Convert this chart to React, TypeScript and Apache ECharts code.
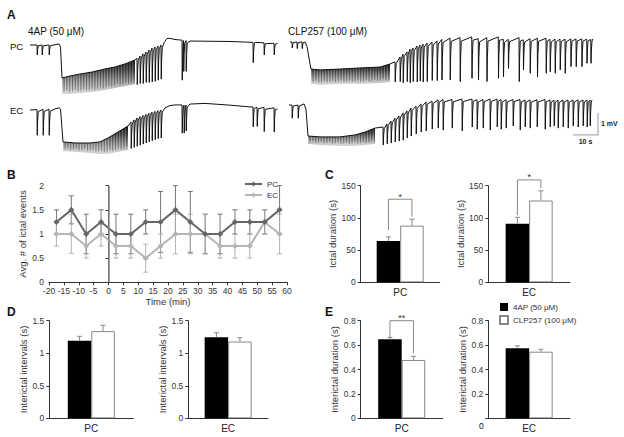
import React, { useEffect, useRef } from 'react';
import * as echarts from 'echarts';

const FONT = '"Liberation Sans", Arial, Helvetica, sans-serif';

// ---------- Panel A: traces (time in s, potential in mV relative to start) ----------
// baseline / envelope points [t, mV]
const pcLeftBase = [[0, 0], [11.6, 0.05], [12.2, -0.1], [12.8, -1.5], [16, -1.41], [20, -1.32], [24.8, -1.23], [30, -1.09], [34, -1.0], [38, -0.86], [42, -0.68], [53.6, 0.1], [54.8, 0.3], [56, 0.3], [58, 0.25], [64, 0.18], [80, 0.16], [90, 0.12], [99, 0.07]];
// spikes [t, onset mV, trough mV]
const pcLeftSpikes = [[2.8, 0, -0.45], [4.8, 0, -0.45], [7.6, 0, -0.45], [42.8, -0.6, -1.8], [44, -0.5, -1.75], [45.2, -0.4, -1.75], [46.4, -0.32, -1.7], [47.6, -0.23, -1.7], [48.8, -0.14, -1.68], [50, -0.09, -1.65], [51.2, -0.05, -1.6], [52.4, 0, -1.55], [60.8, 0.22, -1.6], [61.4, 0.2, -1.2], [62.4, 0.2, -1.2], [89.2, 0.12, -0.8], [93.6, 0.1, -0.45], [97.6, 0.08, -0.45]];
// dense burst band [t, upper mV, lower mV]
const pcLeftBand = [[12.8, -1.5, -2.23], [16, -1.41, -2.23], [20, -1.32, -2.18], [24.8, -1.23, -2.14], [30, -1.09, -2.05], [34, -1.0, -1.95], [38, -0.86, -1.86], [42, -0.68, -1.77]];

const ecLeftBase = [[0, 0], [10, 0.05], [11.6, 0.1], [12.2, 0.05], [13.2, -1.45], [18, -1.5], [24, -1.5], [28, -1.45], [31.2, -1.27], [35.2, -1.0], [39.2, -0.73], [54, 0.1], [56, 0.2], [58, 0.23], [64, 0.27], [70, 0.3], [80, 0.22], [88, 0.14], [99, 0.05]];
const ecLeftSpikes = [[2.8, 0.02, -1.15], [5.2, 0.03, -1.15], [7.6, 0.04, -1.15], [40.4, -0.55, -1.75], [41.6, -0.45, -1.7], [42.8, -0.36, -1.65], [44, -0.3, -1.6], [45.2, -0.25, -1.55], [46.4, -0.2, -1.5], [47.6, -0.15, -1.45], [48.8, -0.1, -1.4], [50, -0.06, -1.35], [51.2, -0.03, -1.3], [52.4, 0, -1.27], [60.8, 0.23, -1.05], [61.6, 0.22, -1.05], [62.4, 0.22, -0.95], [89.2, 0.14, -0.77], [90.8, 0.13, -0.75], [93.6, 0.12, -0.98], [97.6, 0.1, -1.0]];
const ecLeftBand = [[13.2, -1.45, -1.86], [18, -1.5, -1.9], [24, -1.5, -1.95], [28, -1.45, -2.0], [31.2, -1.27, -2.0], [35.2, -1.0, -1.9], [39.2, -0.73, -1.82]];

const pcRightBase = [[0.4, 0], [6.4, 0], [7.2, -0.2], [8.4, -1.0], [8.8, -1.23], [12.4, -1.27], [20.4, -1.23], [28.4, -1.18], [36.4, -1.14], [40.4, -1.0], [121.5, 0.14]];
const pcRightSpikes = [[1.2, 0, -0.27], [3.2, 0, -0.3], [5.2, 0, -0.3],
  [42.4, -0.9, -1.82], [44.4, -0.68, -1.8], [45.6, -0.55, -1.85], [47.2, -0.45, -1.8], [48.4, -0.32, -1.85], [49.6, -0.27, -1.8], [51.2, -0.18, -1.82], [52.4, -0.14, -1.78], [53.6, -0.09, -1.82], [55.2, -0.05, -1.8], [57.2, 0, -1.75], [59.2, 0.05, -1.75],
  [61.1, 0.12, -1.73], [64.4, 0.18, -1.73], [68.4, 0.2, -1.8], [73.1, 0.23, -1.65], [75.7, 0.15, -1.73], [79.1, 0.2, -1.8], [83.7, 0.23, -1.65], [85.7, 0.12, -1.58], [87.7, 0.12, -1.2], [92, 0.2, -1.8], [93.7, 0.1, -1.27], [96.4, 0.15, -1.42], [99.3, 0.17, -1.58], [102.8, 0.17, -1.42], [104.4, 0.12, -1.35], [106.4, 0.13, -1.42], [108.4, 0.13, -1.27], [110.4, 0.13, -1.42], [112.7, 0.14, -1.12], [114.8, 0.14, -1.12], [117.1, 0.14, -1.12], [119.1, 0.13, -0.97], [120.7, 0.12, -0.97]];
const pcRightBand = [[8.8, -1.23, -1.9], [12.4, -1.27, -1.95], [20.4, -1.23, -1.9], [28.4, -1.18, -1.9], [36.4, -1.14, -1.86], [40.4, -1.0, -1.82]];

const ecRightBase = [[0, 0], [6, 0.05], [6.8, -0.2], [7.6, -1.41], [12.4, -1.45], [20.4, -1.45], [26.4, -1.36], [30.4, -1.23], [34.4, -1.05], [121.2, 0.22]];
const ecRightSpikes = [[1.2, 0, -0.6], [3.6, 0, -0.6],
  [37.6, -1.0, -1.82], [39.2, -0.86, -1.77], [40.8, -0.73, -1.73], [42.4, -0.6, -1.68], [44, -0.5, -1.64], [45.6, -0.36, -1.6], [47.2, -0.27, -1.5], [48.8, -0.14, -1.41], [50.8, -0.05, -1.32], [52.8, 0.05, -1.23], [54.8, 0.14, -1.18], [57.2, 0.18, -1.09], [59.6, 0.23, -1.05],
  [61.6, 0.25, -1.14], [65.2, 0.25, -1.05], [69.2, 0.27, -1.18], [73.2, 0.27, -1.0], [75.2, 0.24, -1.1], [77.6, 0.25, -1.05], [80.4, 0.27, -1.14], [83.2, 0.27, -1.0], [84.8, 0.24, -1.1], [86.8, 0.24, -1.05], [89.6, 0.25, -0.95], [92.4, 0.25, -1.14], [94.4, 0.23, -1.0], [96.4, 0.23, -1.05], [99.2, 0.24, -1.0], [102.4, 0.25, -1.1], [104.4, 0.23, -1.0], [106, 0.22, -0.95], [107.6, 0.22, -1.05], [109.6, 0.23, -1.0], [111.6, 0.23, -1.05], [113.6, 0.23, -0.95], [115.6, 0.23, -1.0], [117.6, 0.23, -0.95], [119.2, 0.22, -1.0], [120.4, 0.22, -0.95]];
const ecRightBand = [[7.6, -1.41, -1.77], [12.4, -1.45, -1.82], [20.4, -1.45, -1.86], [26.4, -1.36, -1.86], [30.4, -1.23, -1.82], [34.4, -1.05, -1.77]];

// scale bar: 10 s, 1 mV
const scaleBar = [10, 1];

// ---------- Panel B ----------
const timeMin = [-17.5, -12.5, -7.5, -2.5, 2.5, 7.5, 12.5, 17.5, 22.5, 27.5, 32.5, 37.5, 42.5, 47.5, 52.5, 57.5];
const pcEvents = [1.25, 1.5, 1, 1.25, 1, 1, 1.25, 1.25, 1.5, 1.25, 1, 1, 1.25, 1.25, 1.25, 1.5];
const pcEventsErr = [0.25, 0.29, 0.41, 0.25, 0.41, 0.41, 0.25, 0.63, 0.5, 0.63, 0.41, 0.41, 0.25, 0.25, 0.25, 0.5];
const ecEvents = [1, 1, 0.75, 1, 0.75, 0.75, 0.5, 0.75, 1, 1, 1, 0.75, 0.75, 0.75, 1.25, 1];
const ecEventsErr = [0.25, 0.4, 0.25, 0.25, 0.25, 0.25, 0.29, 0.25, 0.41, 0.41, 0.41, 0.25, 0.25, 0.25, 0.25, 0.41];

// ---------- Panels C-E ----------
const groups = ['4AP (50 μM)', 'CLP257 (100 μM)'];
const ictalPC = [64, 88];
const ictalPCErr = [6.5, 10];
const ictalEC = [91, 127];
const ictalECErr = [10, 15];
const intervalsPC = [1.19, 1.34];
const intervalsPCErr = [0.07, 0.09];
const intervalsEC = [1.245, 1.18];
const intervalsECErr = [0.07, 0.06];
const durationPC = [0.648, 0.478];
const durationPCErr = [0.015, 0.03];
const durationEC = [0.574, 0.546];
const durationECErr = [0.02, 0.02];
// significance brackets [left leg bottom, right leg bottom, top]
const bracketIctalPC = [81, 102, 129];
const bracketIctalEC = [104.5, 146, 159];
const bracketDurPC = [0.664, 0.533, 0.8];

const BAR_W = 23.5;
const AX = '#333';

function traceLine(base: number[][], spikes: number[][]) {
  const pts: number[][] = base.map((p) => [p[0], p[1]]);
  spikes.forEach(([t, top, bot]) => {
    const d = top - bot;
    pts.push([t, top], [t + 0.1, bot], [t + 0.25, bot + d * 0.55], [t + 0.5, top - d * 0.08]);
  });
  pts.sort((a, b) => a[0] - b[0]);
  return pts;
}

function traceSeries(base: number[][], spikes: number[][], idx: number) {
  return {
    type: 'line', xAxisIndex: idx, yAxisIndex: idx, silent: true, showSymbol: false, symbol: 'none',
    data: traceLine(base, spikes), lineStyle: { color: '#111', width: 1 }, z: 3,
  };
}

function bandSeries(band: number[][], idx: number) {
  return {
    type: 'custom', xAxisIndex: idx, yAxisIndex: idx, silent: true, z: 2,
    data: band,
    encode: { x: 0, y: [1, 2] },
    renderItem: (params: any, api: any) => {
      if (params.dataIndex !== 0) return null;
      const upper = band.map((b) => api.coord([b[0], b[1]]));
      const lower = band.map((b) => api.coord([b[0], b[2]]));
      const children: any[] = [
        {
          type: 'polygon',
          shape: { points: upper.concat(lower.slice().reverse()) },
          style: {
            fill: new echarts.graphic.LinearGradient(0, 0, 0, 1, [
              { offset: 0, color: '#111' },
              { offset: 0.3, color: 'rgba(35,35,35,0.85)' },
              { offset: 1, color: 'rgba(140,140,140,0.35)' },
            ]),
          },
        },
      ];
      // vertical streak texture (rendering only)
      let k = 0;
      for (let x = upper[0][0] + 0.7; x < upper[upper.length - 1][0]; x += 1.4, k++) {
        let j = 0;
        while (j < upper.length - 2 && upper[j + 1][0] < x) j++;
        const f = (x - upper[j][0]) / (upper[j + 1][0] - upper[j][0]);
        const yu = upper[j][1] + f * (upper[j + 1][1] - upper[j][1]);
        const yl = lower[j][1] + f * (lower[j + 1][1] - lower[j][1]);
        const shorten = [0, 2.5, 1, 3.5, 0.5, 2][k % 6];
        children.push({
          type: 'line',
          shape: { x1: x, y1: yu, x2: x, y2: yl - shorten },
          style: { stroke: k % 2 ? 'rgba(25,25,25,0.55)' : 'rgba(255,255,255,0.35)', lineWidth: 0.7 },
        });
      }
      return { type: 'group', children };
    },
  };
}

function errLineSeries(name: string, xs: number[], ys: number[], errs: number[], color: string, idx: number) {
  return {
    type: 'custom', name, xAxisIndex: idx, yAxisIndex: idx, silent: true, z: 1,
    data: xs.map((x, i) => [x, ys[i], errs[i]]),
    encode: { x: 0, y: 1 },
    renderItem: (p: any, api: any) => {
      const x = api.value(0), y = api.value(1), e = api.value(2);
      const a = api.coord([x, y + e]);
      const b = api.coord([x, y - e]);
      const w = 2.5;
      const st = { stroke: color, lineWidth: 0.9 };
      return {
        type: 'group', children: [
          { type: 'line', shape: { x1: a[0], y1: a[1], x2: b[0], y2: b[1] }, style: st },
          { type: 'line', shape: { x1: a[0] - w, y1: a[1], x2: a[0] + w, y2: a[1] }, style: st },
          { type: 'line', shape: { x1: b[0] - w, y1: b[1], x2: b[0] + w, y2: b[1] }, style: st },
        ],
      };
    },
  };
}

function barErrSeries(vals: number[], errs: number[], idx: number) {
  return {
    type: 'custom', name: 'err' + idx, xAxisIndex: idx, yAxisIndex: idx, silent: true, z: 4,
    data: vals.map((v, i) => [0, v, errs[i], i]),
    encode: { x: 0, y: 1 },
    renderItem: (p: any, api: any) => {
      const v = api.value(1), e = api.value(2), k = api.value(3);
      const c = api.coord([0, v]);
      const t = api.coord([0, v + e]);
      const x = c[0] + (k === 0 ? -BAR_W / 2 : BAR_W / 2);
      const st = { stroke: '#888', lineWidth: 1 };
      return {
        type: 'group', children: [
          { type: 'line', shape: { x1: x, y1: c[1], x2: x, y2: t[1] }, style: st },
          { type: 'line', shape: { x1: x - 2.5, y1: t[1], x2: x + 2.5, y2: t[1] }, style: st },
        ],
      };
    },
  };
}

function bracketSeries(br: number[], mark: string, idx: number) {
  return {
    type: 'custom', name: 'sig' + idx, xAxisIndex: idx, yAxisIndex: idx, silent: true, z: 5, clip: false,
    data: [[0, br[0], br[1], br[2]]],
    encode: { x: 0, y: 3 },
    renderItem: (p: any, api: any) => {
      const l = api.coord([0, api.value(1)]);
      const r = api.coord([0, api.value(2)]);
      const t = api.coord([0, api.value(3)]);
      const xl = l[0] - BAR_W / 2, xr = l[0] + BAR_W / 2;
      const st = { stroke: '#888', lineWidth: 1 };
      return {
        type: 'group', children: [
          { type: 'polyline', shape: { points: [[xl, l[1]], [xl, t[1]], [xr, t[1]], [xr, r[1]]] }, style: { ...st, fill: 'none' } },
          { type: 'text', style: { text: mark, x: (xl + xr) / 2, y: t[1] + 2, align: 'center', verticalAlign: 'bottom', fontSize: 9, fill: '#333', fontFamily: FONT } },
        ],
      };
    },
  };
}

function scaleBarSeries(idx: number) {
  return {
    type: 'custom', name: 'scale', xAxisIndex: idx, yAxisIndex: idx, silent: true, clip: false,
    data: [[123.6, -1.36]],
    encode: { x: 0, y: 1 },
    renderItem: (p: any, api: any) => {
      const t = api.value(0), v = api.value(1);
      const c = api.coord([t, v]);
      const h = api.coord([t - scaleBar[0], v]);
      const u = api.coord([t, v + scaleBar[1]]);
      const st = { stroke: '#999', lineWidth: 1 };
      return {
        type: 'group', children: [
          { type: 'line', shape: { x1: h[0], y1: c[1], x2: c[0], y2: c[1] }, style: st },
          { type: 'line', shape: { x1: c[0], y1: u[1], x2: c[0], y2: c[1] }, style: st },
          { type: 'text', style: { text: scaleBar[1] + ' mV', x: c[0] + 3, y: (u[1] + c[1]) / 2, align: 'left', verticalAlign: 'middle', fontSize: 7, fontWeight: 'bold', fill: '#222', fontFamily: FONT } },
          { type: 'text', style: { text: scaleBar[0] + ' s', x: (h[0] + c[0]) / 2, y: c[1] + 3, align: 'center', verticalAlign: 'top', fontSize: 7, fontWeight: 'bold', fill: '#222', fontFamily: FONT } },
        ],
      };
    },
  };
}

const axisLineStyle = { show: true, lineStyle: { color: AX, width: 1 } };
const tickStyle = { show: true, length: 3, lineStyle: { color: AX, width: 1 } };
const labelStyle = { fontSize: 8.5, color: '#333', fontFamily: FONT };
const nameStyle = { fontSize: 9.5, color: '#333', fontFamily: FONT };

function barYAxis(idx: number, max: number, interval: number, name: string, gap: number, hideZero = false) {
  return {
    type: 'value', gridIndex: idx, min: 0, max, interval,
    name, nameLocation: 'middle', nameGap: gap, nameTextStyle: nameStyle,
    axisLine: axisLineStyle, axisTick: tickStyle, splitLine: { show: false },
    axisLabel: { ...labelStyle, margin: 5, formatter: (v: number) => (hideZero && v === 0 ? '' : String(v)) },
  };
}
function barXAxis(idx: number, cat: string) {
  return {
    type: 'category', gridIndex: idx, data: [cat],
    axisLine: axisLineStyle, axisTick: { show: false },
    axisLabel: { fontSize: 10, color: '#222', fontFamily: FONT, margin: 5 },
  };
}
function barPair(vals: number[], idx: number) {
  return [
    { type: 'bar', name: groups[0], xAxisIndex: idx, yAxisIndex: idx, data: [vals[0]], barWidth: BAR_W, barGap: '0%', itemStyle: { color: '#000' }, silent: true },
    { type: 'bar', name: groups[1], xAxisIndex: idx, yAxisIndex: idx, data: [vals[1]], barWidth: BAR_W, barGap: '0%', itemStyle: { color: '#fff', borderColor: '#888', borderWidth: 1 }, silent: true },
  ];
}

export default function App() {
  const ref = useRef<HTMLDivElement>(null);
  useEffect(() => {
    if (!ref.current) return;
    const chart = echarts.init(ref.current, undefined, { renderer: 'svg' });
    const traceGrids = [
      { left: 30, top: 34, width: 248, height: 66 },
      { left: 30, top: 99, width: 248, height: 66 },
      { left: 289, top: 31, width: 304, height: 66 },
      { left: 289, top: 94, width: 304, height: 66 },
    ];
    const grids = [
      ...traceGrids,
      { left: 49, top: 185.7, width: 238, height: 96.6 }, // B
      { left: 360.7, top: 185.7, width: 79, height: 96.6 }, // C left
      { left: 488.3, top: 185.7, width: 81.7, height: 96.6 }, // C right
      { left: 49.3, top: 320.7, width: 84, height: 97.6 }, // D left
      { left: 188.3, top: 320.7, width: 79.7, height: 97.6 }, // D right
      { left: 360.7, top: 320.7, width: 82, height: 97.6 }, // E left
      { left: 488.3, top: 320.7, width: 81.7, height: 97.6 }, // E right
    ];
    const traceX = [99.2, 99.2, 121.6, 121.6].map((mx, i) => ({ type: 'value', gridIndex: i, min: 0, max: mx, show: false }));
    const traceY = [0, 1, 2, 3].map((i) => ({ type: 'value', gridIndex: i, min: -2.5, max: 0.5, show: false }));

    const xAxes: any[] = [
      ...traceX,
      {
        type: 'value', gridIndex: 4, min: -20, max: 60, interval: 5,
        name: 'Time (min)', nameLocation: 'middle', nameGap: 14, nameTextStyle: nameStyle,
        axisLine: axisLineStyle, axisTick: tickStyle, splitLine: { show: false },
        axisLabel: { ...labelStyle, margin: 4 },
      },
      barXAxis(5, 'PC'), barXAxis(6, 'EC'), barXAxis(7, 'PC'), barXAxis(8, 'EC'), barXAxis(9, 'PC'), barXAxis(10, 'EC'),
    ];
    const yAxes: any[] = [
      ...traceY,
      {
        type: 'value', gridIndex: 4, min: 0, max: 2, interval: 0.5,
        name: 'Avg. # of ictal events', nameLocation: 'middle', nameGap: 21.5, nameTextStyle: nameStyle,
        axisLine: axisLineStyle, axisTick: tickStyle, splitLine: { show: false },
        axisLabel: { ...labelStyle, margin: 5 },
      },
      barYAxis(5, 150, 50, 'Ictal duration (s)', 21),
      barYAxis(6, 150, 50, 'Ictal duration (s)', 17),
      barYAxis(7, 1.5, 0.5, 'Interictal intervals (s)', 13),
      barYAxis(8, 1.5, 0.5, 'Interictal intervals (s)', 15.5),
      barYAxis(9, 0.8, 0.2, 'Interictal duration (s)', 21),
      barYAxis(10, 0.8, 0.2, 'Interictal duration (s)', 17, true),
    ];

    const series: any[] = [
      bandSeries(pcLeftBand, 0), traceSeries(pcLeftBase, pcLeftSpikes, 0),
      bandSeries(ecLeftBand, 1), traceSeries(ecLeftBase, ecLeftSpikes, 1),
      bandSeries(pcRightBand, 2), traceSeries(pcRightBase, pcRightSpikes, 2),
      bandSeries(ecRightBand, 3), traceSeries(ecRightBase, ecRightSpikes, 3),
      scaleBarSeries(3),
      errLineSeries('pcErr', timeMin, pcEvents, pcEventsErr, '#666', 4),
      errLineSeries('ecErr', timeMin, ecEvents, ecEventsErr, '#aaa', 4),
      {
        type: 'line', name: 'PC', xAxisIndex: 4, yAxisIndex: 4, data: timeMin.map((t, i) => [t, pcEvents[i]]),
        symbol: 'diamond', symbolSize: 6, lineStyle: { color: '#666', width: 2 }, itemStyle: { color: '#666' }, z: 3,
        markLine: { symbol: 'none', silent: true, label: { show: false }, lineStyle: { color: '#888', width: 1.5, type: 'solid' }, data: [{ xAxis: 0 }] },
      },
      {
        type: 'line', name: 'EC', xAxisIndex: 4, yAxisIndex: 4, data: timeMin.map((t, i) => [t, ecEvents[i]]),
        symbol: 'diamond', symbolSize: 6, lineStyle: { color: '#b5b5b5', width: 2 }, itemStyle: { color: '#b5b5b5' }, z: 2,
      },
      ...barPair(ictalPC, 5), barErrSeries(ictalPC, ictalPCErr, 5), bracketSeries(bracketIctalPC, '*', 5),
      ...barPair(ictalEC, 6), barErrSeries(ictalEC, ictalECErr, 6), bracketSeries(bracketIctalEC, '*', 6),
      ...barPair(intervalsPC, 7), barErrSeries(intervalsPC, intervalsPCErr, 7),
      ...barPair(intervalsEC, 8), barErrSeries(intervalsEC, intervalsECErr, 8),
      ...barPair(durationPC, 9), barErrSeries(durationPC, durationPCErr, 9), bracketSeries(bracketDurPC, '**', 9),
      ...barPair(durationEC, 10), barErrSeries(durationEC, durationECErr, 10),
    ];

    const txt = (text: string, x: number, y: number, size: number, bold = false, va = 'middle') => ({
      type: 'text', x, y, silent: true,
      style: { text, fontSize: size, fontWeight: bold ? 'bold' : 'normal', fill: '#111', fontFamily: FONT, verticalAlign: va, align: 'left' },
    });

    chart.setOption({
      animation: false,
      backgroundColor: '#fff',
      textStyle: { fontFamily: FONT },
      grid: grids,
      xAxis: xAxes,
      yAxis: yAxes,
      legend: [
        {
          data: ['PC', 'EC'], orient: 'vertical', left: 239, top: 175, itemWidth: 17, itemHeight: 6, itemGap: 3,
          textStyle: { fontSize: 8, color: '#333', fontFamily: FONT }, selectedMode: false,
        },
        {
          data: groups, orient: 'vertical', left: 494, top: 298, itemWidth: 8, itemHeight: 8, itemGap: 4, icon: 'rect',
          textStyle: { fontSize: 8, color: '#333', fontFamily: FONT }, selectedMode: false,
        },
      ],
      graphic: [
        txt('A', 7, 9, 12, true, 'top'),
        txt('B', 7, 169, 12, true, 'top'),
        txt('C', 325, 169, 12, true, 'top'),
        txt('D', 7, 306, 12, true, 'top'),
        txt('E', 325, 306, 12, true, 'top'),
        txt('4AP (50 μM)', 28, 31, 10),
        txt('CLP257 (100 μM)', 288, 31, 10),
        txt('PC', 10, 46, 9.5),
        txt('EC', 10, 110, 9.5),
        txt('0', 479, 426, 8.5),
      ],
      series,
    });
    return () => chart.dispose();
  }, []);
  return <div ref={ref} style={{ position: 'absolute', left: 0, top: 0, width: 624, height: 437, background: '#fff' }} />;
}
